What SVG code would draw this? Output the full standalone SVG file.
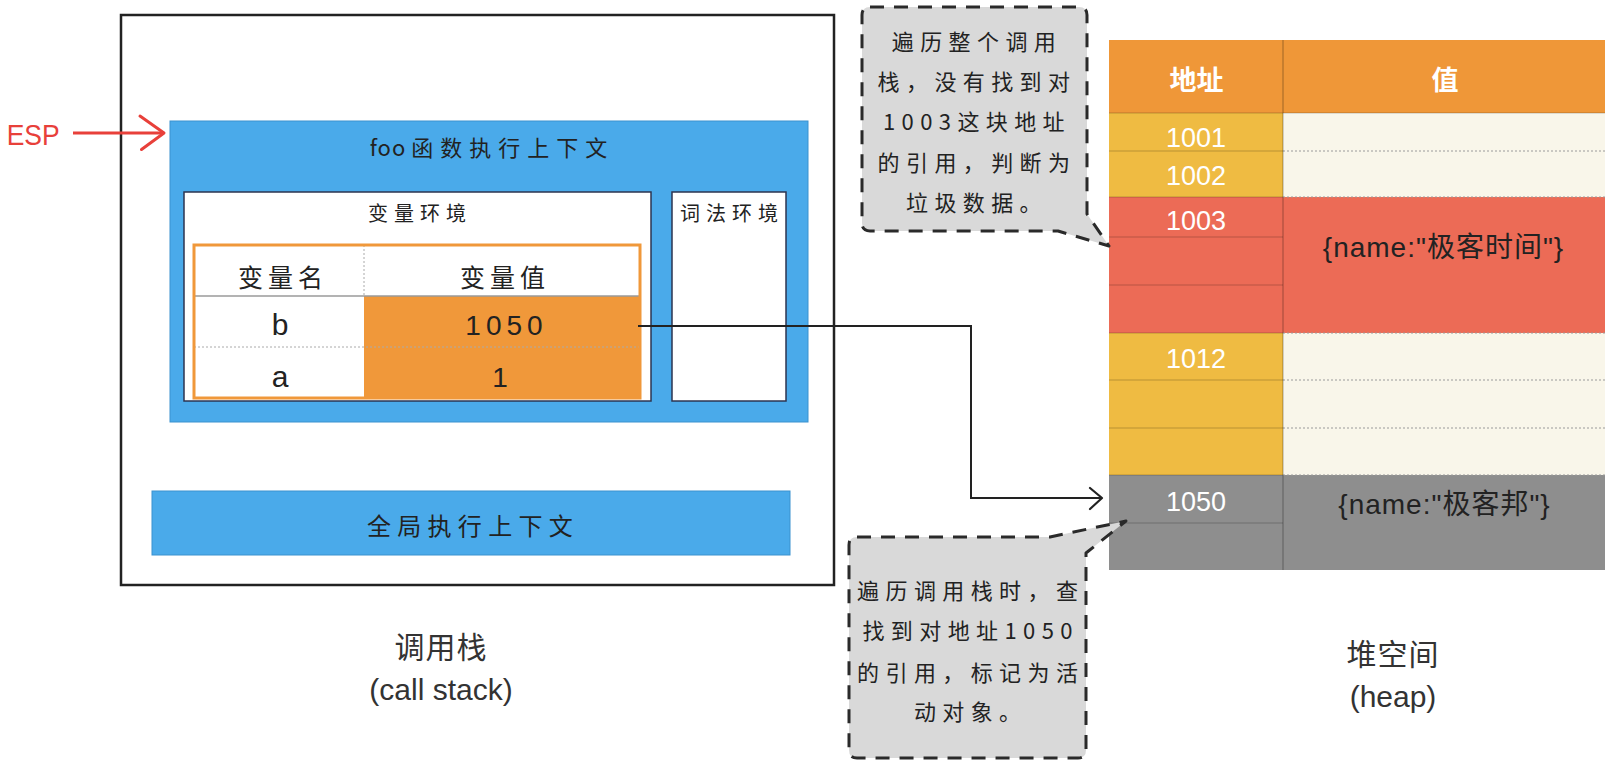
<svg xmlns="http://www.w3.org/2000/svg" width="1618" height="772" viewBox="0 0 1618 772">
<defs>
<style>
.hw{font-family:"Noto Sans CJK SC","Liberation Sans",sans-serif;fill:#222;}
.lat{font-family:"Liberation Sans","Noto Sans CJK SC",sans-serif;}
.mid{text-anchor:middle;}
.blue{fill:#4AAAEA;stroke:#3B92CF;stroke-width:1;}
.cap{font-family:"Noto Sans CJK SC","Liberation Sans",sans-serif;fill:#333;font-size:30px;text-anchor:middle;}
.capl{font-family:"Liberation Sans","Noto Sans CJK SC",sans-serif;fill:#333;font-size:30px;text-anchor:middle;}
.addr{font-family:"Liberation Sans",sans-serif;fill:#fff;font-size:27px;text-anchor:middle;}
.val{font-family:"Liberation Sans","Noto Sans CJK SC",sans-serif;fill:#222;font-size:28px;letter-spacing:1px;text-anchor:middle;}
.lsep{stroke:#000;stroke-opacity:0.22;stroke-width:1.2;}
.rsep{stroke:#9a9a9a;stroke-width:1;stroke-dasharray:2 2;}
.callout{fill:#D9D9D9;stroke:#2a2a2a;stroke-width:3;stroke-dasharray:14 10;stroke-linejoin:round;}
.ctext{font-family:"Noto Sans CJK SC",sans-serif;fill:#222;font-size:22px;letter-spacing:6.4px;text-anchor:middle;}
</style>
</defs>
<rect width="1618" height="772" fill="#ffffff"/>

<g id="call-stack">
<rect x="121" y="15" width="713" height="570" fill="#fff" stroke="#222" stroke-width="2.5"/>
</g>

<g id="esp">
<text x="6.7" y="145" font-family="Liberation Sans, sans-serif" font-size="30" fill="#E8403A" textLength="53" lengthAdjust="spacingAndGlyphs">ESP</text>
<path d="M73,133 H162" stroke="#E8403A" stroke-width="3" fill="none"/>
<path d="M140,116 L164,133 L141.5,149.5" stroke="#E8403A" stroke-width="3" fill="none" stroke-linecap="round" stroke-linejoin="round"/>
</g>

<g id="foo-context">
<rect class="blue" x="170" y="121" width="638" height="301"/>
<text class="hw mid" x="492" y="156" font-size="22"><tspan letter-spacing="1">foo</tspan><tspan dx="5" letter-spacing="7">函数执行上下文</tspan></text>
</g>

<g id="variable-env">
<rect x="184" y="192" width="467" height="209" fill="#fff" stroke="#2d3550" stroke-width="1.5"/>
<text class="hw mid" x="420" y="221" font-size="20" letter-spacing="6">变量环境</text>
<rect x="194" y="245" width="170" height="153" fill="#fff"/>
<rect x="364" y="296" width="276" height="102" fill="#F0983A"/>
<line x1="194" y1="296" x2="640" y2="296" stroke="#9a9a9a" stroke-width="1.5"/>
<line x1="364" y1="245" x2="364" y2="296" stroke="#aaa" stroke-width="1" stroke-dasharray="2 2"/>
<line x1="194" y1="347" x2="640" y2="347" stroke="#aaa" stroke-width="1" stroke-dasharray="2 2"/>
<rect x="194" y="245" width="446" height="153" fill="none" stroke="#F0983A" stroke-width="3"/>
<text class="hw mid" x="283" y="287" font-size="25" letter-spacing="5">变量名</text>
<text class="hw mid" x="505" y="287" font-size="25" letter-spacing="5">变量值</text>
<text class="lat mid" x="280" y="335" font-size="30" fill="#222">b</text>
<text class="lat mid" x="506.5" y="335" font-size="28" letter-spacing="5" fill="#222">1050</text>
<text class="lat mid" x="280" y="387" font-size="30" fill="#222">a</text>
<text class="lat mid" x="500" y="387" font-size="28" fill="#222">1</text>
</g>

<g id="lexical-env">
<rect x="672" y="192" width="114" height="209" fill="#fff" stroke="#2d3550" stroke-width="1.5"/>
<text class="hw mid" x="732" y="221" font-size="20" letter-spacing="6">词法环境</text>
</g>

<g id="global-context">
<rect class="blue" x="152" y="491" width="638" height="64"/>
<text class="hw mid" x="473" y="535" font-size="24" letter-spacing="6.3">全局执行上下文</text>
</g>

<g id="call-stack-label">
<text class="cap" x="441" y="658" letter-spacing="1">调用栈</text>
<text class="capl" x="441" y="700">(call stack)</text>
</g>

<g id="heap">
<rect x="1109" y="40" width="496" height="73" fill="#EF9738"/>
<rect x="1109" y="113" width="174" height="84" fill="#EFBB42"/>
<rect x="1283" y="113" width="322" height="84" fill="#F9F6EA"/>
<rect x="1109" y="197" width="496" height="136" fill="#EC6B56"/>
<rect x="1109" y="333" width="174" height="142" fill="#EFBB42"/>
<rect x="1283" y="333" width="322" height="142" fill="#F9F6EA"/>
<rect x="1109" y="475" width="496" height="95" fill="#8E8E8E"/>
<line class="lsep" x1="1109" y1="113" x2="1605" y2="113"/>
<line class="lsep" x1="1109" y1="151" x2="1283" y2="151"/>
<line class="lsep" x1="1109" y1="197" x2="1283" y2="197"/>
<line class="lsep" x1="1109" y1="237" x2="1283" y2="237"/>
<line class="lsep" x1="1109" y1="285" x2="1283" y2="285"/>
<line class="lsep" x1="1109" y1="333" x2="1283" y2="333"/>
<line class="lsep" x1="1109" y1="380" x2="1283" y2="380"/>
<line class="lsep" x1="1109" y1="428" x2="1283" y2="428"/>
<line class="lsep" x1="1109" y1="475" x2="1283" y2="475"/>
<line class="lsep" x1="1109" y1="523" x2="1283" y2="523"/>
<line class="rsep" x1="1283" y1="151" x2="1605" y2="151"/>
<line class="rsep" x1="1283" y1="197" x2="1605" y2="197"/>
<line class="rsep" x1="1283" y1="333" x2="1605" y2="333"/>
<line class="rsep" x1="1283" y1="380" x2="1605" y2="380"/>
<line class="rsep" x1="1283" y1="428" x2="1605" y2="428"/>
<line class="rsep" x1="1283" y1="475" x2="1605" y2="475"/>
<line x1="1283" y1="40" x2="1283" y2="570" stroke="#000" stroke-opacity="0.28" stroke-width="1.2"/>
<text x="1196.5" y="90" font-family="Noto Sans CJK SC, sans-serif" font-size="27" font-weight="bold" fill="#fff" text-anchor="middle">地址</text>
<text x="1445" y="90" font-family="Noto Sans CJK SC, sans-serif" font-size="27" font-weight="bold" fill="#fff" text-anchor="middle">值</text>
<text class="addr" x="1196" y="147">1001</text>
<text class="addr" x="1196" y="185">1002</text>
<text class="addr" x="1196" y="230">1003</text>
<text class="addr" x="1196" y="367.5">1012</text>
<text class="addr" x="1196" y="510.5">1050</text>
<text class="val" x="1443.5" y="257">{name:"极客时间"}</text>
<text class="val" x="1444.5" y="514">{name:"极客邦"}</text>
</g>

<g id="heap-label">
<text class="cap" x="1393" y="665" letter-spacing="1">堆空间</text>
<text class="capl" x="1393" y="707">(heap)</text>
</g>

<g id="connectors">
<path d="M638,326 H971 V498 H1101" fill="none" stroke="#222" stroke-width="2"/>
<path d="M1090,488 L1102,498 L1090,509" fill="none" stroke="#222" stroke-width="2.2" stroke-linecap="round" stroke-linejoin="round"/>
</g>

<g id="callout-garbage">
<path class="callout" d="M870,7 H1079 Q1087,7 1087,15 V214 L1109,246 L1058,231 H870 Q862,231 862,223 V15 Q862,7 870,7 Z"/>
<text class="ctext" x="977" y="50">遍历整个调用</text>
<text class="ctext" x="977" y="90">栈，没有找到对</text>
<text class="ctext" x="977" y="130">1003这块地址</text>
<text class="ctext" x="977" y="171">的引用，判断为</text>
<text class="ctext" x="977" y="211">垃圾数据。</text>
</g>

<g id="callout-active">
<path class="callout" d="M857,537 H1050 L1126,521 L1086,553 V750 Q1086,758 1078,758 H857 Q849,758 849,750 V545 Q849,537 857,537 Z"/>
<text class="ctext" x="970.7" y="599">遍历调用栈时，查</text>
<text class="ctext" x="970.7" y="638.5">找到对地址1050</text>
<text class="ctext" x="970.7" y="680.5">的引用，标记为活</text>
<text class="ctext" x="970.7" y="719.5">动对象。</text>
</g>
</svg>
